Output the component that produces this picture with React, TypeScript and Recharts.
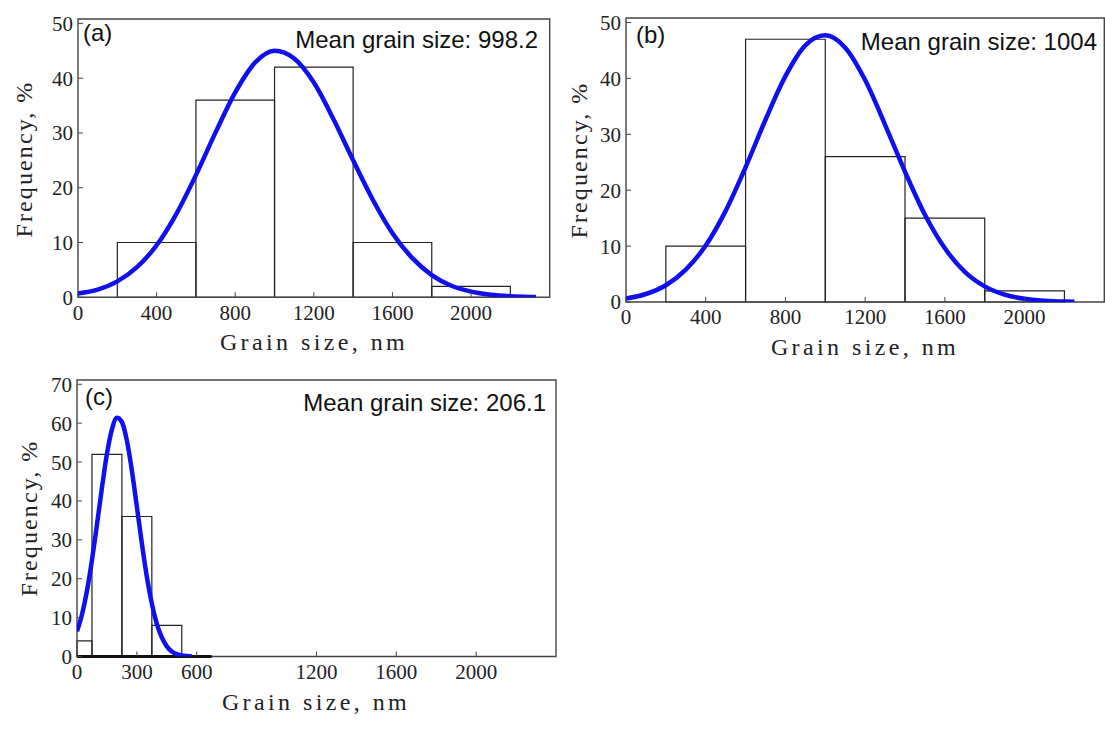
import { ComposedChart, Line, XAxis, YAxis, ReferenceArea, ReferenceLine } from "recharts"

const xTicksAB = [0, 400, 800, 1200, 1600, 2000]
const xTicksC = [0, 300, 600, 1200, 1600, 2000]
const yTicksAB = [0, 10, 20, 30, 40, 50]
const yTicksC = [0, 10, 20, 30, 40, 50, 60, 70]

// histogram bins (nm) and frequencies (%)
const edgesAB = [200, 600, 1000, 1400, 1800, 2200]
const freqA = [10, 36, 42, 10, 2]
const freqB = [10, 47, 26, 15, 2]
const edgesC = [0, 75, 225, 375, 525]
const freqC = [4, 52, 36, 8]

// fitted curves
const fitXA = [0, 100, 200, 300, 400, 500, 600, 700, 800, 900, 1000, 1100, 1200, 1300, 1400, 1500, 1600, 1700, 1800, 1900, 2000, 2100, 2200, 2300, 2330]
const fitYA = [0.7, 1.4, 2.9, 5.5, 9.5, 15.2, 22.3, 30.1, 37.4, 42.8, 45.0, 43.6, 39.2, 32.5, 25.0, 17.8, 11.7, 7.2, 4.05, 2.1, 1.03, 0.46, 0.19, 0.07, 0.05]
const fitXB = [0, 100, 200, 300, 400, 500, 600, 700, 800, 900, 1000, 1100, 1200, 1300, 1400, 1500, 1600, 1700, 1800, 1900, 2000, 2100, 2200, 2250]
const fitYB = [0.63, 1.43, 3.0, 5.8, 10.1, 16.3, 24.1, 32.6, 40.4, 45.9, 47.7, 45.5, 39.7, 31.7, 23.3, 15.6, 9.6, 5.4, 2.8, 1.32, 0.57, 0.23, 0.08, 0.05]
const fitXC = [0, 25, 50, 75, 100, 125, 150, 175, 200, 225, 250, 275, 300, 325, 350, 375, 400, 425, 450, 475, 500, 525, 550, 575]
const fitYC = [6.5, 10.8, 16.9, 24.8, 33.9, 43.4, 52.1, 58.4, 61.4, 60.3, 55.5, 47.8, 38.5, 29.1, 20.5, 13.6, 8.4, 4.9, 2.6, 1.3, 0.63, 0.28, 0.12, 0.05]

const tags = ["(a)", "(b)", "(c)"]
const means = ["998.2", "1004", "206.1"]

const tickFont = { fontFamily: "Liberation Serif", fontSize: 21, fill: "#222" }

type PanelProps = {
  box: number[]
  yMax: number
  yTicks: number[]
  xTicks: number[]
  edges: number[]
  freq: number[]
  fx: number[]
  fy: number[]
  innerAxisEnd?: number
}

function Panel({ box, yMax, yTicks, xTicks, edges, freq, fx, fy, innerAxisEnd }: PanelProps) {
  const [left, top, w, h] = box
  const data = fx.map((x, i) => ({ x, y: fy[i] }))
  return (
    <div style={{ position: "absolute", left: left - 70, top: top - 20 }}>
      <ComposedChart width={w + 72} height={h + 95} data={data} margin={{ top: 20, right: 2, bottom: 35, left: 10 }}>
        <XAxis
          dataKey="x"
          type="number"
          domain={[0, 2400]}
          ticks={xTicks}
          interval={0}
          allowDataOverflow
          height={40}
          axisLine={false}
          tickSize={-5}
          tickMargin={12.5}
          tickLine={{ stroke: "#444" }}
          tick={tickFont}
        />
        <YAxis
          type="number"
          domain={[0, yMax]}
          ticks={yTicks}
          interval={0}
          allowDataOverflow
          width={60}
          axisLine={false}
          tickSize={-5}
          tickMargin={10}
          tickLine={{ stroke: "#444" }}
          tick={tickFont}
        />
        {freq.map((f, i) => (
          <ReferenceArea
            key={i}
            x1={edges[i]}
            x2={edges[i + 1]}
            y1={0}
            y2={f}
            fill="none"
            fillOpacity={0}
            stroke="#222"
            strokeWidth={1.2}
            strokeOpacity={1}
          />
        ))}
        {innerAxisEnd ? (
          <ReferenceLine segment={[{ x: 0, y: 0 }, { x: innerAxisEnd, y: 0 }]} stroke="#111" strokeWidth={3} />
        ) : null}
        <ReferenceArea x1={0} x2={2400} y1={0} y2={yMax} fill="none" fillOpacity={0} stroke="#444" strokeWidth={1.4} strokeOpacity={1} />
        <Line dataKey="y" type="monotone" stroke="#1010ee" strokeWidth={4.5} dot={false} activeDot={false} isAnimationActive={false} />
      </ComposedChart>
    </div>
  )
}

const tagPos = [[83, 41], [636, 43], [85, 405]]
const meanPos = [[538, 48], [1097, 49.5], [546, 411]]
const yTitlePos = [[32, 159], [587, 160], [37, 518]]
const xTitlePos = [[314, 350], [865, 355], [316, 710]]

export default function App() {
  return (
    <div style={{ position: "absolute", left: 0, top: 0, width: 1105, height: 731, background: "#fff", overflow: "hidden" }}>
      <Panel box={[78.3, 19, 471.7, 278.3]} yMax={50.8} yTicks={yTicksAB} xTicks={xTicksAB} edges={edgesAB} freq={freqA} fx={fitXA} fy={fitYA} />
      <Panel box={[625.7, 18.3, 478.3, 284]} yMax={50.8} yTicks={yTicksAB} xTicks={xTicksAB} edges={edgesAB} freq={freqB} fx={fitXB} fy={fitYB} />
      <Panel box={[76.7, 380, 479, 276.5]} yMax={71.1} yTicks={yTicksC} xTicks={xTicksC} edges={edgesC} freq={freqC} fx={fitXC} fy={fitYC} innerAxisEnd={675} />
      <svg width={1105} height={731} style={{ position: "absolute", left: 0, top: 0, pointerEvents: "none" }}>
        {tags.map((t, i) => (
          <text key={"t" + i} x={tagPos[i][0]} y={tagPos[i][1]} fontFamily="Liberation Sans" fontSize={24} fill="#111">{t}</text>
        ))}
        {means.map((m, i) => (
          <text key={"m" + i} x={meanPos[i][0]} y={meanPos[i][1]} textAnchor="end" fontFamily="Liberation Sans" fontSize={24} fill="#111">
            {"Mean grain size: " + m}
          </text>
        ))}
        {yTitlePos.map(([x, y], i) => (
          <text key={"y" + i} x={x} y={y} transform={`rotate(-90 ${x} ${y})`} textAnchor="middle" fontFamily="Liberation Serif" fontSize={24} letterSpacing={2.1} fill="#222">
            Frequency, %
          </text>
        ))}
        {xTitlePos.map(([x, y], i) => (
          <text key={"x" + i} x={x} y={y} textAnchor="middle" fontFamily="Liberation Serif" fontSize={24} letterSpacing={3.4} fill="#222">
            Grain size, nm
          </text>
        ))}
      </svg>
    </div>
  )
}
